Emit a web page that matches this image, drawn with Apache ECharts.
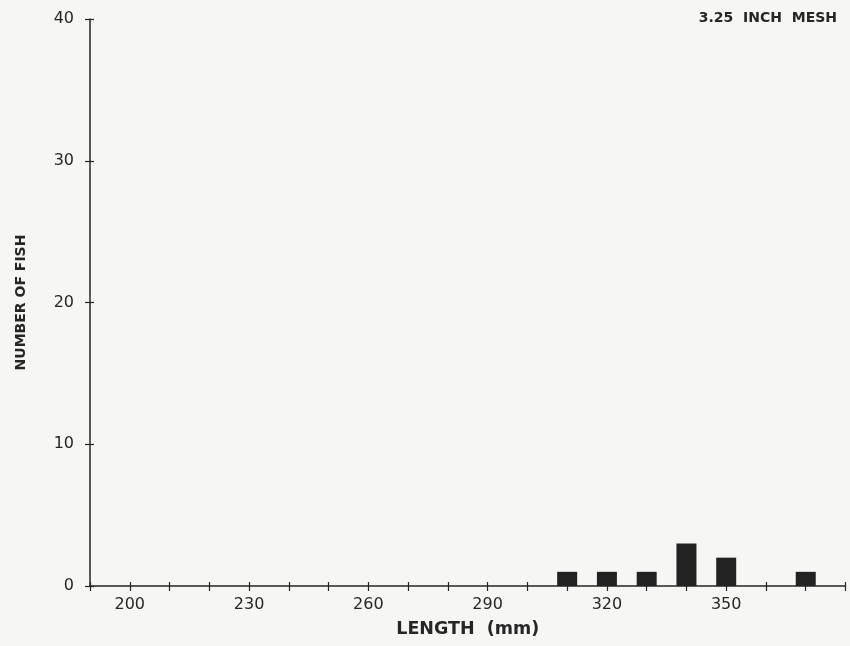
<!DOCTYPE html>
<html>
<head>
<meta charset="utf-8">
<script src="https://cdn.jsdelivr.net/npm/echarts@6/dist/echarts.min.js"></script>
<style>
html,body{margin:0;padding:0;background:#f6f6f4;}
#chart{width:850px;height:646px;}
</style>
</head>
<body>
<div id="chart"></div>
<script>
var lengths = [310, 320, 330, 340, 350, 370];
var counts = [1, 1, 1, 3, 2, 1];
var xLabels = [200, 230, 260, 290, 320, 350];
var yLabels = [0, 10, 20, 30, 40];
var titleText = '3.25  INCH  MESH';
var xName = 'LENGTH  (mm)';
var yName = 'NUMBER OF FISH';

var ink = '#262626';
var font = '"DejaVu Sans", sans-serif';
var data = lengths.map(function (l, i) { return [l, counts[i]]; });

var chart = echarts.init(document.getElementById('chart'));
var grid = { left: 90, right: 4.5, top: 19, bottom: 60 };
chart.setOption({
  backgroundColor: '#f6f6f4',
  animation: false,
  title: {
    text: titleText, right: 8, top: 6,
    textStyle: { fontFamily: font, fontSize: 14, fontWeight: 'bold', color: ink }
  },
  grid: grid,
  xAxis: [{
    type: 'value', min: 190, max: 380, interval: 10,
    name: xName, nameLocation: 'middle', nameGap: 34,
    nameTextStyle: { fontFamily: font, fontSize: 17.5, fontWeight: 'bold', color: ink },
    axisLine: { lineStyle: { color: ink, width: 1.5 } },
    axisTick: { length: 5, lineStyle: { color: ink, width: 1.2 } },
    splitLine: { show: false },
    axisLabel: {
      fontFamily: font, fontSize: 16, color: ink, margin: 11,
      formatter: function (v) { return xLabels.indexOf(v) >= 0 ? String(v) : ''; }
    }
  }, {
    type: 'value', min: 190, max: 380, interval: 10, position: 'bottom',
    axisLine: { show: false },
    axisTick: { inside: true, length: 4, lineStyle: { color: ink, width: 1.2 } },
    axisLabel: { show: false }, splitLine: { show: false }
  }],
  yAxis: [{
    type: 'value', min: 0, max: 40, interval: 10,
    name: yName, nameLocation: 'middle', nameGap: 62,
    nameTextStyle: { fontFamily: font, fontSize: 14, fontWeight: 'bold', color: ink },
    axisLine: { show: true, lineStyle: { color: ink, width: 1.5 } },
    axisTick: { show: true, length: 5, lineStyle: { color: ink, width: 1.2 } },
    splitLine: { show: false },
    axisLabel: {
      fontFamily: font, fontSize: 16, color: ink, margin: 16,
      formatter: function (v) { return yLabels.indexOf(v) >= 0 ? String(v) : ''; }
    }
  }, {
    type: 'value', min: 0, max: 40, interval: 10, position: 'left',
    axisLine: { show: false },
    axisTick: { show: true, inside: true, length: 4, lineStyle: { color: ink, width: 1.2 } },
    axisLabel: { show: false }, splitLine: { show: false }
  }],
  series: [{
    type: 'bar', data: data, barWidth: 20,
    itemStyle: { color: '#222222' }
  }]
});
</script>
</body>
</html>
